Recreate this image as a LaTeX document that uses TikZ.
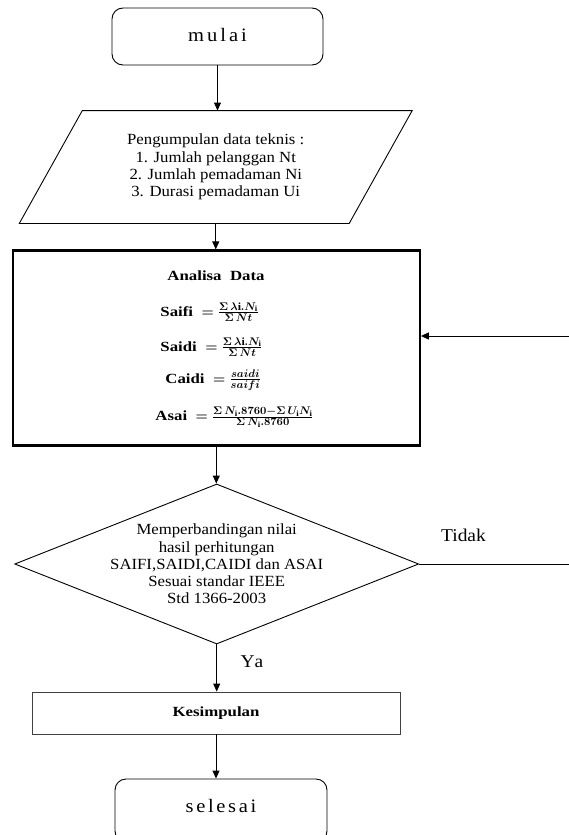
\RequirePackage{fix-cm}
\documentclass[tikz,border=0pt]{standalone}
\usepackage{fontspec}
\setmainfont{Liberation Serif}[FakeStretch=1.08]
\newfontfamily\widefont{Liberation Serif}[FakeStretch=1.2]
\DeclareMathSizes{14}{14}{11}{8}
\usetikzlibrary{shapes.geometric,arrows.meta}
\begin{document}
\begin{tikzpicture}[x=1pt,y=-1pt,
  line width=0.9pt,
  arr/.style={-{Triangle[length=8pt,width=7pt]}},
  term/.style={draw,rounded corners=11pt,inner sep=0pt},
  body/.style={font=\fontsize{15.5}{17.3}\selectfont,align=center,inner sep=0pt},
  anat/.style={font=\fontsize{14}{17}\selectfont\widefont\bfseries\boldmath,inner sep=0pt},
  lbl/.style={font=\fontsize{18}{20}\selectfont,inner sep=0pt}]
\useasboundingbox (0,0) rectangle (568,835);

% start
\node[term,minimum width=211pt,minimum height=57pt] (mulai) at (217.5,36.5)
  {\fontsize{19}{22}\selectfont\addfontfeature{LetterSpace=16}\raisebox{4pt}{mulai}};

% input data (parallelogram)
\node[body,minimum width=329pt,minimum height=112pt] (data) at (215.75,167)
  {Pengumpulan data teknis :\\1. Jumlah pelanggan Nt\\2. Jumlah pemadaman Ni\\3. Durasi pemadaman Ui};
\draw ([xshift=31.5pt]data.north west) -- ([xshift=31.5pt]data.north east)
  -- ([xshift=-31.5pt]data.south east) -- ([xshift=-31.5pt]data.south west) -- cycle;

% analysis box
\node[draw,line width=2.2pt,minimum width=407pt,minimum height=195pt,inner sep=0pt] (ana) at (216.3,348) {};
\node[anat] (anaT) at (216,276) {Analisa\ \ Data};
\node[anat,anchor=west] (saifi) at (160,312) {Saifi\ \ $=$\ $\frac{\Sigma\,\lambda\mathrm{i}.N_{\mathrm{i}}}{\Sigma\, Nt}$};
\node[anat,anchor=west] (saidi) at (160,347) {Saidi\ \ $=$\ $\frac{\Sigma\,\lambda\mathrm{i}.N_{\mathrm{i}}}{\Sigma\, Nt}$};
\node[anat,anchor=west] (caidi) at (165,380) {Caidi\ \ $=$\ $\frac{saidi}{saifi}$};
\node[anat,anchor=west] (asai) at (155,417) {Asai\ \ $=$\ $\frac{\Sigma\, N_{\mathrm{i}}.8760-\Sigma\, U_{\mathrm{i}}N_{\mathrm{i}}}{\Sigma\, N_{\mathrm{i}}.8760}$};

% decision
\node[draw,diamond,minimum width=404pt,minimum height=160pt,inner sep=0pt] (dec) at (216.7,564) {};
\node[body] (dectxt) at (dec.center) {Memperbandingan nilai\\hasil perhitungan\\SAIFI,SAIDI,CAIDI dan ASAI\\Sesuai standar IEEE\\Std 1366-2003};
\node[lbl] (tidak) at (463.5,535) {Tidak};
\node[lbl] (ya) at (252,662) {\addfontfeature{LetterSpace=10}Ya};

% conclusion
\node[draw=black!75,minimum width=368pt,minimum height=42pt,inner sep=0pt,
  font=\fontsize{14}{17}\selectfont\widefont\bfseries] (kes) at (216,713) {Kesimpulan};

% end
\node[term,minimum width=212pt,minimum height=63pt] (sel) at (221,810.5)
  {\fontsize{19}{22}\selectfont\addfontfeature{LetterSpace=14}\raisebox{9pt}{selesai}};

% connectors
\coordinate (loopR) at (572,564);
\coordinate (loopT) at (572,336);
\draw[arr] (mulai.south) -- (mulai.south |- data.north);
\draw[arr] (data.south) -- (data.south |- ana.north);
\draw[arr] (ana.south) -- (ana.south |- dec.north);
\draw[arr] (dec.east) -- (loopR) -- (loopT) -- (loopT -| ana.east);
\draw[arr] (dec.south) -- (dec.south |- kes.north);
\draw[arr] (kes.south) -- (kes.south |- sel.north);
\end{tikzpicture}
\end{document}
